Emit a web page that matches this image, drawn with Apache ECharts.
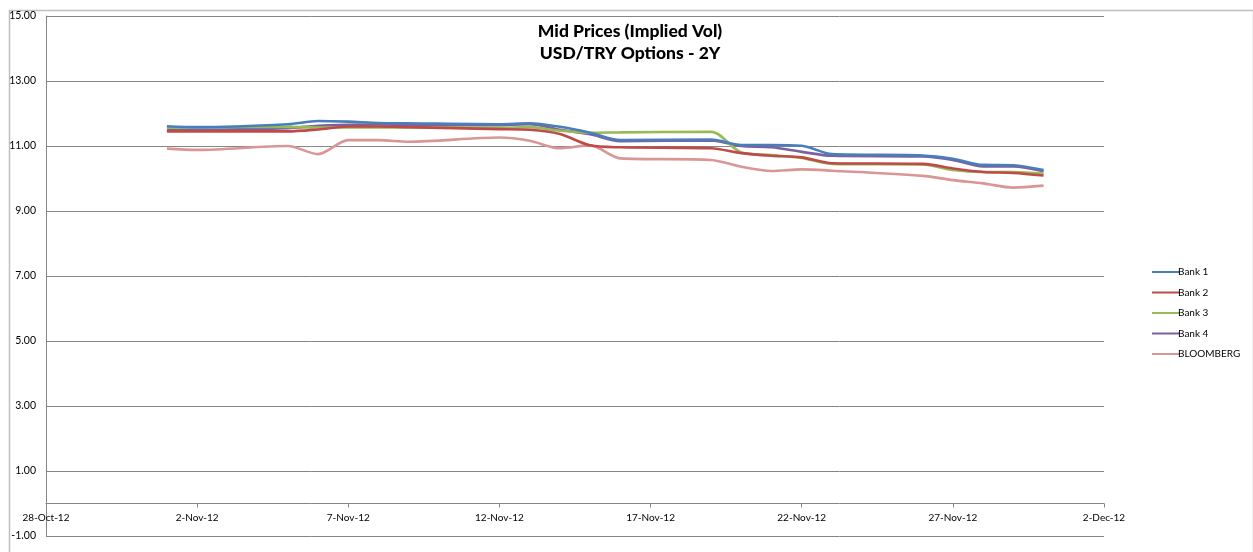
<!DOCTYPE html>
<html>
<head>
<meta charset="utf-8">
<script src="https://cdn.jsdelivr.net/npm/echarts@6/dist/echarts.min.js"></script>
<style>html,body{margin:0;padding:0;background:#fff;}#c{width:1253px;height:552px;}</style>
</head>
<body>
<div id="c"></div>
<script>
const dates = ['2012-11-01','2012-11-02','2012-11-05','2012-11-06','2012-11-07','2012-11-08','2012-11-09',
  '2012-11-12','2012-11-13','2012-11-14','2012-11-15','2012-11-16','2012-11-19','2012-11-20','2012-11-21',
  '2012-11-22','2012-11-23','2012-11-26','2012-11-27','2012-11-28','2012-11-29','2012-11-30'];
const bank1 = [11.61,11.58,11.67,11.77,11.75,11.71,11.70,11.67,11.70,11.59,11.41,11.18,11.20,11.03,11.03,11.01,10.75,10.71,10.61,10.42,10.41,10.26];
const bank2 = [11.45,11.45,11.45,11.51,11.60,11.60,11.58,11.52,11.50,11.37,11.02,10.96,10.93,10.78,10.70,10.65,10.47,10.45,10.31,10.20,10.17,10.09];
const bank3 = [11.56,11.57,11.59,11.57,11.57,11.57,11.57,11.56,11.58,11.47,11.41,11.42,11.44,10.80,10.72,10.63,10.45,10.43,10.26,10.20,10.20,10.15];
const bank4 = [11.50,11.50,11.55,11.62,11.65,11.66,11.65,11.64,11.67,11.50,11.36,11.15,11.17,11.00,10.96,10.82,10.70,10.68,10.57,10.37,10.37,10.22];
const bloomberg = [10.92,10.88,11.00,10.75,11.18,11.18,11.13,11.26,11.16,10.93,11.02,10.62,10.57,10.36,10.23,10.28,10.24,10.08,9.95,9.85,9.72,9.78];
const seriesNames = ['Bank 1','Bank 2','Bank 3','Bank 4','BLOOMBERG'];
const seriesColors = ['#4A7EBB','#BE4B48','#98B954','#7D60A0','#D99694'];
const xMinDate = '2012-10-28', xMaxDate = '2012-12-02';
const titleLines = ['Mid Prices (Implied Vol)','USD/TRY Options - 2Y'];

const DAY = 86400000;
const toDay = s => { const p = s.split('-').map(Number); return Date.UTC(p[0], p[1]-1, p[2]) / DAY; };
const MON = ['Jan','Feb','Mar','Apr','May','Jun','Jul','Aug','Sep','Oct','Nov','Dec'];
const fmtDay = d => { const t = new Date(d * DAY); return t.getUTCDate() + '-' + MON[t.getUTCMonth()] + '-' + String(t.getUTCFullYear()).slice(2); };

const allData = [bank1, bank2, bank3, bank4, bloomberg];
const font = 'Lato, "Liberation Sans", sans-serif';

const chart = echarts.init(document.getElementById('c'), null, {renderer: 'canvas'});
chart.setOption({
  animation: false,
  backgroundColor: '#fff',
  textStyle: {fontFamily: font},
  title: {
    text: titleLines.join('\n'),
    left: 625, top: 15, textAlign: 'center',
    textStyle: {fontSize: 17.5, fontWeight: 900, color: '#000', lineHeight: 22, fontFamily: font}
  },
  graphic: [{
    type: 'rect', left: 7, top: 8, shape: {width: 1244, height: 560},
    style: {fill: 'none', stroke: '#BFBFBF', lineWidth: 1.5}, silent: true, z: -1
  }],
  legend: {
    orient: 'vertical', left: 1147, top: 262, itemGap: 10.5,
    itemWidth: 28, itemHeight: 12,
    icon: 'path://M0,5 L28,5 L28,7 L0,7 Z',
    textStyle: {fontSize: 10, color: '#000', fontFamily: font, padding: [0,0,0,-7]},
    data: seriesNames
  },
  grid: {left: 46, top: 16, right: 149, bottom: 16, containLabel: false},
  xAxis: {
    type: 'value', min: toDay(xMinDate), max: toDay(xMaxDate), interval: 5,
    offset: -32.5,
    axisLine: {onZero: false, lineStyle: {color: '#868686', width: 1}},
    axisTick: {show: true, inside: false, length: 4, lineStyle: {color: '#868686'}},
    axisLabel: {formatter: v => fmtDay(v), fontSize: 10, color: '#000', margin: 9, fontFamily: font},
    splitLine: {show: false}
  },
  yAxis: {
    type: 'value', min: -1, max: 15, interval: 2,
    axisLine: {show: true, lineStyle: {color: '#868686', width: 1}},
    axisTick: {show: false},
    axisLabel: {formatter: v => v.toFixed(2), fontSize: 10.5, color: '#000', margin: 10, fontFamily: font},
    splitLine: {show: true, lineStyle: {color: '#868686', width: 1}}
  },
  series: seriesNames.map((name, i) => ({
    name, type: 'line', smooth: 0.3, symbol: 'none',
    color: seriesColors[i],
    lineStyle: {width: 2.6, color: seriesColors[i]},
    data: dates.map((d, j) => [toDay(d), allData[i][j]]),
    z: 10 - i
  }))
});
</script>
</body>
</html>
